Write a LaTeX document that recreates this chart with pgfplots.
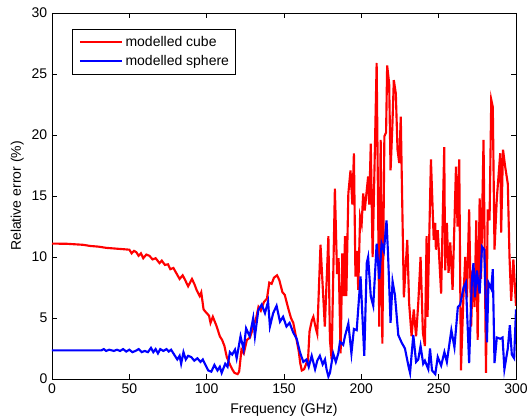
\documentclass[border=0pt]{standalone}
\usepackage{fontspec}
\setmainfont{Liberation Sans}
\usepackage{pgfplots}
\pgfplotsset{compat=1.18}

\pgfplotstableread{
f v
0 11.1
10 11.08
20 11.0
25 10.9
30 10.85
35 10.75
40 10.7
45 10.65
50 10.6
51.5 10.3
53 10.5
54.5 10.4
56 10.1
57.5 10.3
59 9.9
61 10.2
63 10.1
65 9.8
67 9.9
69.5 9.5
71 9.7
73 9.35
75 9.4
76.5 9.0
78.5 9.1
80.5 8.65
82.5 8.2
84.5 8.5
86.5 8.0
88 7.6
90.5 8.2
92 7.8
93.5 7.3
95.5 6.8
96.5 7.1
98 5.7
100 5.4
101.5 5.2
102.5 4.6
104 5.1
106.5 4.3
108.5 3.5
110 3.2
111.5 2.7
113 1.8
115 1.2
116.5 0.8
118 0.5
120 0.4
121 0.6
122.5 2.4
124 2.1
126 3.2
128 3.4
130 4.2
132 5.0
133.5 5.9
135 5.6
137 6.3
139 6.6
140.5 7.9
142 7.8
143.5 8.3
145.5 8.5
147 8.1
149 7.1
150.5 6.9
152.5 5.9
154.5 5.0
156 4.6
158 3.3
159.5 2.3
160.5 1.3
161.5 0.7
163 0.8
164.5 1.3
165.5 1.5
166.5 3.9
168 4.8
169 5.1
170.5 4.2
171.5 3.7
173.6 11.0
176.4 4.3
178.7 11.7
179.7 3.2
180.8 1.6
182.9 15.6
184.3 8.6
185.3 9.9
186.6 2.1
187.7 10.3
188.8 6.8
189.4 11.7
190.3 6.8
191.6 15.2
193 17.1
194.2 14.3
195.2 18.5
196.2 8.4
197.2 10.5
198 7.3
199.2 13.3
200.2 12.7
201.2 15.2
202.2 13.8
204.4 16.6
205.1 14.3
206.1 19.3
207.3 10.0
208.4 16.6
209.9 25.9
211.6 4.3
212.5 19.6
213.6 2.9
214.9 19.9
216 20.2
216.7 25.7
218 24.2
218.9 17.1
220 20.5
221 24.5
222.3 23.4
223.4 18.8
224.5 17.7
225.5 21.5
226 17.7
227.5 6.7
229.7 11.4
230.9 6.2
232.5 3.5
233.9 5.7
235.4 3.5
236.8 6.2
238.3 10.0
239.8 3.8
241.1 2.7
242.2 11.7
242.8 5.1
245 18.0
246.8 11.4
247.8 12.8
248.2 10.6
249.4 12.2
251.6 7.0
253.6 19.0
254.2 8.9
255.3 12.8
256.4 8.7
257.5 11.2
259 7.3
261.2 17.4
262.2 12.5
263.3 18.0
264.4 0.7
266 6.7
267.2 10.0
268.3 6.7
269.7 13.9
271 4.3
272.1 8.9
273.2 5.9
274.3 13.0
275.2 3.2
276.5 14.8
277.4 8.2
279 19.6
280.6 0.5
281.7 13.9
282.9 13.0
284 22.9
285 22.3
286.1 10.6
287.6 14.8
289.8 18.5
290.4 12.0
291.6 18.8
293 17.4
294.7 16.0
295.8 10.0
296.9 6.4
298.3 9.8
300 6.0
}\cube

\pgfplotstableread{
f v
0 2.35
32 2.35
33.5 2.45
35 2.3
37 2.4
40 2.3
42 2.4
44 2.3
46 2.45
48 2.25
50 2.4
52 2.2
54 2.3
56 2.45
58 2.2
60 2.3
62 2.2
64 2.55
65.5 2.2
67 2.45
68.5 2.1
70 2.45
72 2.3
74 2.45
75.5 2.25
77 2.4
79 2.0
81 1.6
82.5 1.9
83.5 1.25
85 2.2
86.5 1.6
88 1.9
90 1.8
92 1.5
94 1.7
96 1.4
97.5 1.6
99 1.2
101 0.7
103 0.6
105 1.15
107 0.7
108.5 1.0
109.7 0.5
112 1.25
113.5 1.0
115 2.2
116.5 2.0
118.3 2.4
119.4 1.7
121.9 3.5
123.9 2.4
125.5 4.15
127.8 3.5
130.1 5.0
131.2 3.5
133.4 5.65
135.6 6.1
137.7 5.4
139.7 6.35
140.9 4.3
143 5.4
145.2 6.0
147.4 4.7
149.4 5.1
151.6 4.3
153.6 4.6
156 3.8
158.2 3.3
160.3 2.2
162.5 1.4
164.5 1.6
166 1.0
167.9 1.9
170.1 0.8
171.5 1.5
173.2 1.9
175 1.2
176.5 1.6
177.5 0.8
178.7 0.2
179.7 0.5
181.8 2.1
183.5 1.4
185.1 2.1
186.2 3.05
188.3 2.8
189.4 3.5
191.6 4.55
193.6 2.1
195.2 4.1
197 4.0
199.5 8.4
201.9 1.9
203.5 9.5
204.4 10.0
206.1 6.8
207.7 6.0
208.8 8.5
209.9 11.1
211.6 8.2
213.1 11.1
214.6 10.5
216.3 13.0
217.4 9.8
218.9 4.6
220.2 8.0
221.7 6.9
223.9 3.6
226 3.0
228.2 2.5
230.4 1.1
231.5 0.5
233.6 3.6
235.4 1.4
236.8 1.6
238.3 2.7
240 1.25
241.1 1.5
243.3 0.8
244.4 2.5
245.7 0.7
247.8 0.4
249.4 1.8
251.6 1.1
253.7 2.2
255.3 1.4
258.2 4.0
260.2 2.6
262.4 5.9
263.9 6.1
266.1 7.5
267.6 7.9
269.7 1.3
271.5 8.2
272.5 9.5
273.5 6.7
274.7 8.9
276.5 7.0
278 10.85
279.5 10.6
281.2 3.0
282.2 7.9
284 7.4
285 9.0
286.1 1.3
287.6 3.4
289.8 3.3
291.3 3.4
292.5 0.8
294.7 2.5
296 4.4
297.3 2.0
298.8 1.7
300 5.7
}\sphere

\begin{document}
\begin{tikzpicture}
\begin{axis}[
    name=ax,
    scale only axis,
    width=348pt,
    height=274.5pt,
    font=\fontsize{10.5}{12.6}\selectfont,
    xmin=0, xmax=300,
    ymin=0, ymax=30,
    xtick={0,50,...,300},
    ytick={0,5,...,30},
    tick align=inside,
    major tick length=4pt,
    axis line style={black, line width=0.6pt},
    tick style={black, line width=0.5pt},
    /pgf/number format/assume math mode=true,
    xlabel={Frequency (GHz)},
    ylabel={Relative error (\%)},
    xlabel style={at={(axis description cs:0.5,-0.0656)}, anchor=north, inner sep=0pt},
    ylabel style={at={(axis description cs:-0.0603,0.5)}, anchor=south, inner sep=0pt},
    legend style={at={(axis description cs:0,1)}, anchor=north west,
        xshift=14.8pt, yshift=-12.2pt, draw=black, line width=0.5pt,
        inner xsep=2.5pt, inner ysep=3pt, row sep=1pt},
    legend cell align=left,
    legend image code/.code={\path (0pt,0pt); \draw[#1] (2.5pt,0pt) -- (34pt,0pt);},
]
\addplot[red, line width=1.6pt] table[x=f, y=v] {\cube};
\addlegendentry{modelled cube}
\addplot[blue, line width=1.6pt] table[x=f, y=v] {\sphere};
\addlegendentry{modelled sphere}
\end{axis}
\pgfresetboundingbox
\path ([shift={(-39pt,-30.75pt)}]ax.south west) rectangle ([shift={(9pt,9.75pt)}]ax.north east);
\end{tikzpicture}
\end{document}
